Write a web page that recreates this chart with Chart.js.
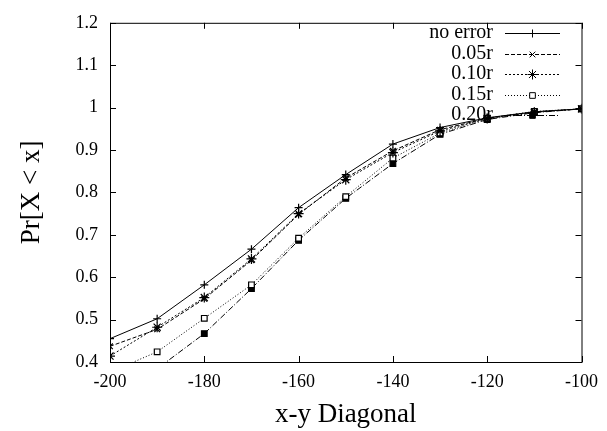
<!DOCTYPE html>
<html>
<head>
<meta charset="utf-8">
<script src="https://cdn.jsdelivr.net/npm/chart.js@4/dist/chart.umd.min.js"></script>
<style>
  html, body { margin: 0; padding: 0; background: #fff; }
  #wrap { width: 607px; height: 431px; }
</style>
</head>
<body>
<div id="wrap"><canvas id="chart"></canvas></div>
<script>
// ── DATA ──────────────────────────────────────────────────────────
const xValues   = [-200, -190, -180, -170, -160, -150, -140, -130, -120, -110, -100];
const noError   = [0.455, 0.502, 0.582, 0.666, 0.764, 0.842, 0.914, 0.953, 0.976, 0.990, 0.997];
const err05     = [0.437, 0.477, 0.549, 0.640, 0.748, 0.834, 0.898, 0.948, 0.975, 0.990, 0.997];
const err10     = [0.414, 0.482, 0.552, 0.643, 0.750, 0.830, 0.894, 0.945, 0.974, 0.989, 0.997];
const err15     = [0.376, 0.424, 0.503, 0.582, 0.692, 0.790, 0.881, 0.940, 0.975, 0.991, 0.997];
const err20     = [0.340, 0.384, 0.467, 0.573, 0.687, 0.786, 0.868, 0.937, 0.972, 0.988, 0.997];

const seriesLabels = ["no error", "0.05r", "0.10r", "0.15r", "0.20r"];
const xTickLabels  = ["-200", "-180", "-160", "-140", "-120", "-100"];
const yTickLabels  = ["0.4", "0.5", "0.6", "0.7", "0.8", "0.9", "1", "1.1", "1.2"];

const SERIF = "'Liberation Serif', 'Times New Roman', serif";

const toPoints = ys => ys.map((y, i) => ({ x: xValues[i], y }));

// Line / marker style per series (gnuplot-ish)
const styles = [
  { dash: [],            point: "cross",    radius: 4, fill: "#000" },
  { dash: [4, 2],        point: "crossRot", radius: 4, fill: "#000" },
  { dash: [2, 2],        point: "star",     radius: 5, fill: "#000" },
  { dash: [1, 2],        point: "rect",     radius: 4, fill: "#fff" },
  { dash: [6, 2, 1, 2],  point: "rect",     radius: 4, fill: "#000" },
];

const allSeries = [noError, err05, err10, err15, err20];

const datasets = allSeries.map((ys, i) => ({
  label: seriesLabels[i],
  data: toPoints(ys),
  borderColor: "#000",
  borderWidth: 1,
  borderDash: styles[i].dash,
  pointStyle: styles[i].point,
  pointRadius: styles[i].radius,
  pointBorderWidth: 1.2,
  pointBorderColor: "#000",
  pointBackgroundColor: styles[i].fill,
  tension: 0,
  fill: false,
}));

// ── FRAME + INWARD TICKS + LEGEND ─────────────────────────────────
const framePlugin = {
  id: "frame",
  afterDraw(chart) {
    const { ctx, chartArea: a, scales } = chart;
    ctx.save();
    ctx.strokeStyle = "#000";
    ctx.lineWidth = 1;
    ctx.setLineDash([]);
    ctx.strokeRect(a.left + 0.5, a.top + 0.5, a.right - a.left, a.bottom - a.top);

    const tl = 6;
    ctx.beginPath();
    scales.x.ticks.forEach(t => {
      const px = Math.round(scales.x.getPixelForValue(t.value)) + 0.5;
      ctx.moveTo(px, a.bottom); ctx.lineTo(px, a.bottom - tl);
      ctx.moveTo(px, a.top);    ctx.lineTo(px, a.top + tl);
    });
    scales.y.ticks.forEach(t => {
      const py = Math.round(scales.y.getPixelForValue(t.value)) + 0.5;
      ctx.moveTo(a.left, py);  ctx.lineTo(a.left + tl, py);
      ctx.moveTo(a.right, py); ctx.lineTo(a.right - tl, py);
    });
    ctx.stroke();

    // legend, top right inside the plot
    const textRight = 493, lineL = 505, lineR = 560;
    ctx.font = "20px " + SERIF;
    ctx.fillStyle = "#000";
    ctx.textAlign = "right";
    ctx.textBaseline = "middle";
    chart.data.datasets.forEach((ds, i) => {
      const y = 33 + i * 20.5;
      ctx.fillText(ds.label, textRight, y);
      ctx.beginPath();
      ctx.setLineDash(ds.borderDash);
      ctx.moveTo(lineL, Math.round(y) + 0.5);
      ctx.lineTo(lineR, Math.round(y) + 0.5);
      ctx.stroke();
      ctx.setLineDash([]);
      ctx.fillStyle = ds.pointBackgroundColor;
      Chart.helpers.drawPoint(ctx, {
        pointStyle: ds.pointStyle, radius: ds.pointRadius, rotation: 0, borderWidth: 1.2
      }, (lineL + lineR) / 2, Math.round(y) + 0.5);
      ctx.fillStyle = "#000";
    });
    ctx.restore();
  }
};

// ── CHART ─────────────────────────────────────────────────────────
new Chart(document.getElementById("chart"), {
  type: "line",
  data: { datasets },
  options: {
    responsive: true,
    maintainAspectRatio: false,
    animation: false,
    layout: { padding: { top: 15, right: 23, left: 0, bottom: 0 } },
    plugins: { legend: { display: false }, tooltip: { enabled: false } },
    scales: {
      x: {
        type: "linear",
        min: -200, max: -100,
        afterFit: s => { s.height = 69; },
        grid: { display: false, drawTicks: false },
        border: { display: false },
        ticks: {
          stepSize: 20,
          padding: 9,
          color: "#000",
          font: { family: SERIF, size: 18 },
          callback: (v, i) => xTickLabels[i],
        },
        title: {
          display: true,
          text: "x-y Diagonal",
          color: "#000",
          font: { family: SERIF, size: 27 },
          padding: { top: 0, bottom: 0 },
        },
      },
      y: {
        min: 0.4, max: 1.2,
        afterFit: s => { s.width = 110; },
        grid: { display: false, drawTicks: false },
        border: { display: false },
        ticks: {
          stepSize: 0.1,
          padding: 12,
          color: "#000",
          font: { family: SERIF, size: 18 },
          callback: (v, i) => yTickLabels[i],
        },
        title: {
          display: true,
          text: "Pr[X < x]",
          color: "#000",
          font: { family: SERIF, size: 27 },
          padding: { top: 16, bottom: 0 },
        },
      },
    },
  },
  plugins: [framePlugin],
});
</script>
</body>
</html>
